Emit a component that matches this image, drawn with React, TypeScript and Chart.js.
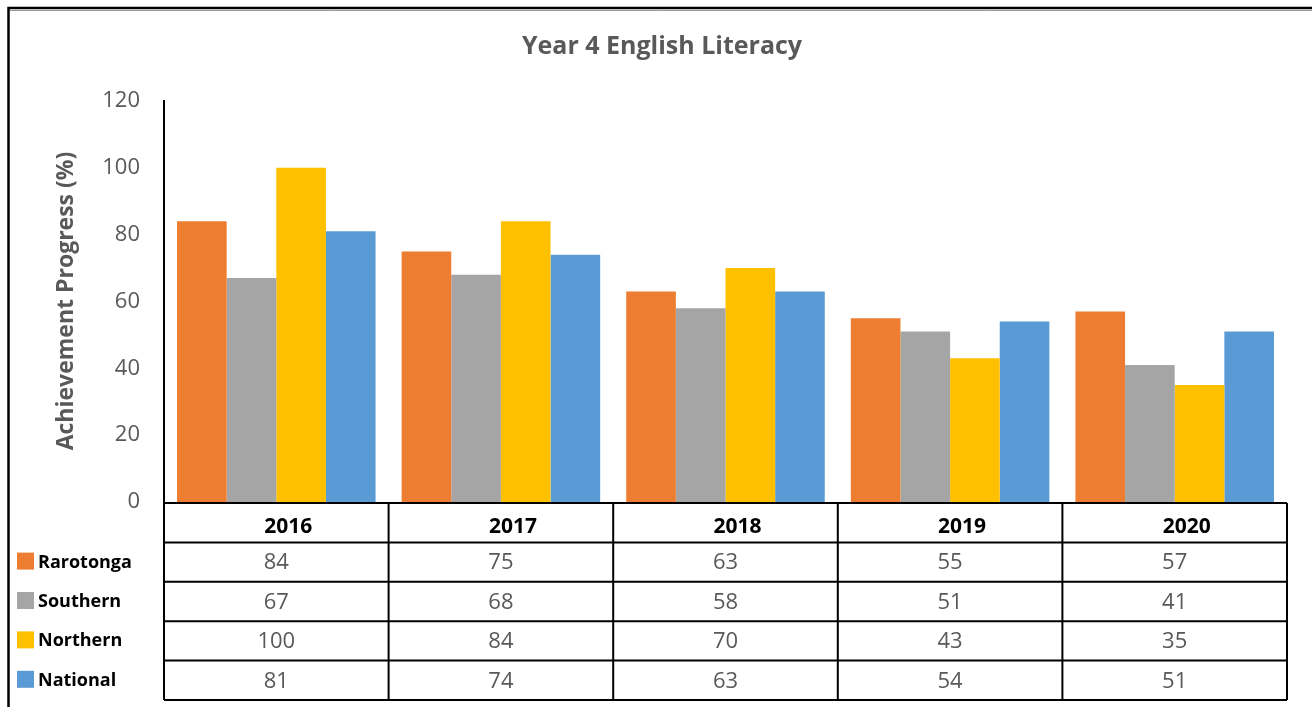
import React, { useEffect, useRef } from "react";
import { Chart, registerables } from "chart.js";

Chart.register(...registerables);

const YEARS = ["2016", "2017", "2018", "2019", "2020"];
const RAROTONGA = [84, 75, 63, 55, 57];
const SOUTHERN = [67, 68, 58, 51, 41];
const NORTHERN = [100, 84, 70, 43, 35];
const NATIONAL = [81, 74, 63, 54, 51];
const SERIES_NAMES = ["Rarotonga", "Southern", "Northern", "National"];
const SERIES_COLORS = ["#ED7D31", "#A5A5A5", "#FFC000", "#5B9BD5"];
const SERIES_VALUES = [RAROTONGA, SOUTHERN, NORTHERN, NATIONAL];
const Y_MIN = 0;
const Y_MAX = 120;
const Y_STEP = 20;
const TITLE = "Year 4 English Literacy";
const Y_TITLE = "Achievement Progress (%)";

const FONT = "'Open Sans', 'Noto Sans', sans-serif";
const GREY_TEXT = "#595959";

const tablePlugin = {
  id: "excelTable",
  afterDraw(chart: any) {
    const ctx: CanvasRenderingContext2D = chart.ctx;
    const area = chart.chartArea;
    const x = chart.scales.x;
    ctx.save();

    // outer frame
    ctx.strokeStyle = "#000";
    ctx.lineWidth = 2.5;
    ctx.beginPath();
    ctx.moveTo(8.5, chart.height + 10);
    ctx.lineTo(8.5, 8);
    ctx.lineTo(chart.width + 10, 8);
    ctx.stroke();
    ctx.strokeStyle = "#9a9a9a";
    ctx.lineWidth = 1;
    ctx.beginPath();
    ctx.moveTo(10, 10.5);
    ctx.lineTo(chart.width + 10, 10.5);
    ctx.stroke();

    // title
    ctx.fillStyle = GREY_TEXT;
    ctx.font = `bold 25px ${FONT}`;
    ctx.textAlign = "center";
    ctx.textBaseline = "alphabetic";
    ctx.fillText(TITLE, 662, 54);

    // y axis title
    ctx.save();
    ctx.translate(73, 301);
    ctx.rotate(-Math.PI / 2);
    ctx.font = `bold 23px ${FONT}`;
    ctx.fillText(Y_TITLE, 0, 0);
    ctx.restore();

    // table
    const n = YEARS.length;
    const catW = (area.right - area.left) / n;
    const left = area.left;
    const right = area.right;
    const top = area.bottom + 1;
    const headerH = 39.4;
    const rowH = 39.4;
    const bottom = top + headerH + rowH * SERIES_NAMES.length;

    ctx.strokeStyle = "#000";
    ctx.lineWidth = 2;
    ctx.beginPath();
    for (let r = 0; r <= SERIES_NAMES.length + 1; r++) {
      const yy = r === 0 ? top : top + headerH + rowH * (r - 1);
      ctx.moveTo(left, yy);
      ctx.lineTo(right, yy);
    }
    for (let c = 0; c <= n; c++) {
      const xx = c === n ? right : x.getPixelForValue(c) - catW / 2;
      ctx.moveTo(xx, top);
      ctx.lineTo(xx, bottom);
    }
    ctx.stroke();

    // header
    ctx.fillStyle = "#000";
    ctx.font = `bold 21px ${FONT}`;
    ctx.textAlign = "center";
    YEARS.forEach((yr, i) => {
      ctx.fillText(yr, x.getPixelForValue(i) + 12, top + 30);
    });

    // values + legend
    SERIES_NAMES.forEach((name, s) => {
      const rowTop = top + headerH + rowH * s;
      ctx.fillStyle = GREY_TEXT;
      ctx.font = `22px ${FONT}`;
      ctx.textAlign = "center";
      SERIES_VALUES[s].forEach((v, i) => {
        ctx.fillText(String(v), x.getPixelForValue(i), rowTop + 27);
      });
      const cy = rowTop + rowH / 2 - 1;
      ctx.fillStyle = SERIES_COLORS[s];
      ctx.fillRect(17, cy - 8.5, 17, 17);
      ctx.fillStyle = "#000";
      ctx.font = `bold 18px ${FONT}`;
      ctx.textAlign = "left";
      ctx.fillText(name, 38, cy + 6.5);
    });

    ctx.restore();
  },
};

export default function App() {
  const ref = useRef<HTMLCanvasElement | null>(null);

  useEffect(() => {
    document.body.style.margin = "0";
    document.body.style.overflow = "hidden";
    const canvas = ref.current!;
    const chart = new Chart(canvas, {
      type: "bar",
      data: {
        labels: YEARS,
        datasets: SERIES_NAMES.map((name, i) => ({
          label: name,
          data: SERIES_VALUES[i],
          backgroundColor: SERIES_COLORS[i],
          borderWidth: 0,
          categoryPercentage: 0.884,
          barPercentage: 1,
        })),
      },
      options: {
        responsive: false,
        animation: false,
        devicePixelRatio: 1,
        layout: { padding: { left: 0, top: 101, right: 25, bottom: 205 } },
        plugins: {
          legend: { display: false },
          title: { display: false },
          tooltip: { enabled: false },
        },
        scales: {
          x: {
            display: false,
          },
          y: {
            min: Y_MIN,
            max: Y_MAX,
            ticks: {
              stepSize: Y_STEP,
              padding: 24,
              color: GREY_TEXT,
              font: { family: FONT, size: 22 },
            },
            grid: { display: false, drawTicks: false },
            border: { display: true, color: "#000", width: 2 },
            afterFit: (scale: any) => {
              scale.width = 164;
            },
          },
        },
      },
      plugins: [tablePlugin],
    });
    return () => chart.destroy();
  }, []);

  return (
    <canvas
      ref={ref}
      width={1312}
      height={707}
      style={{ display: "block", width: 1312, height: 707 }}
    />
  );
}
